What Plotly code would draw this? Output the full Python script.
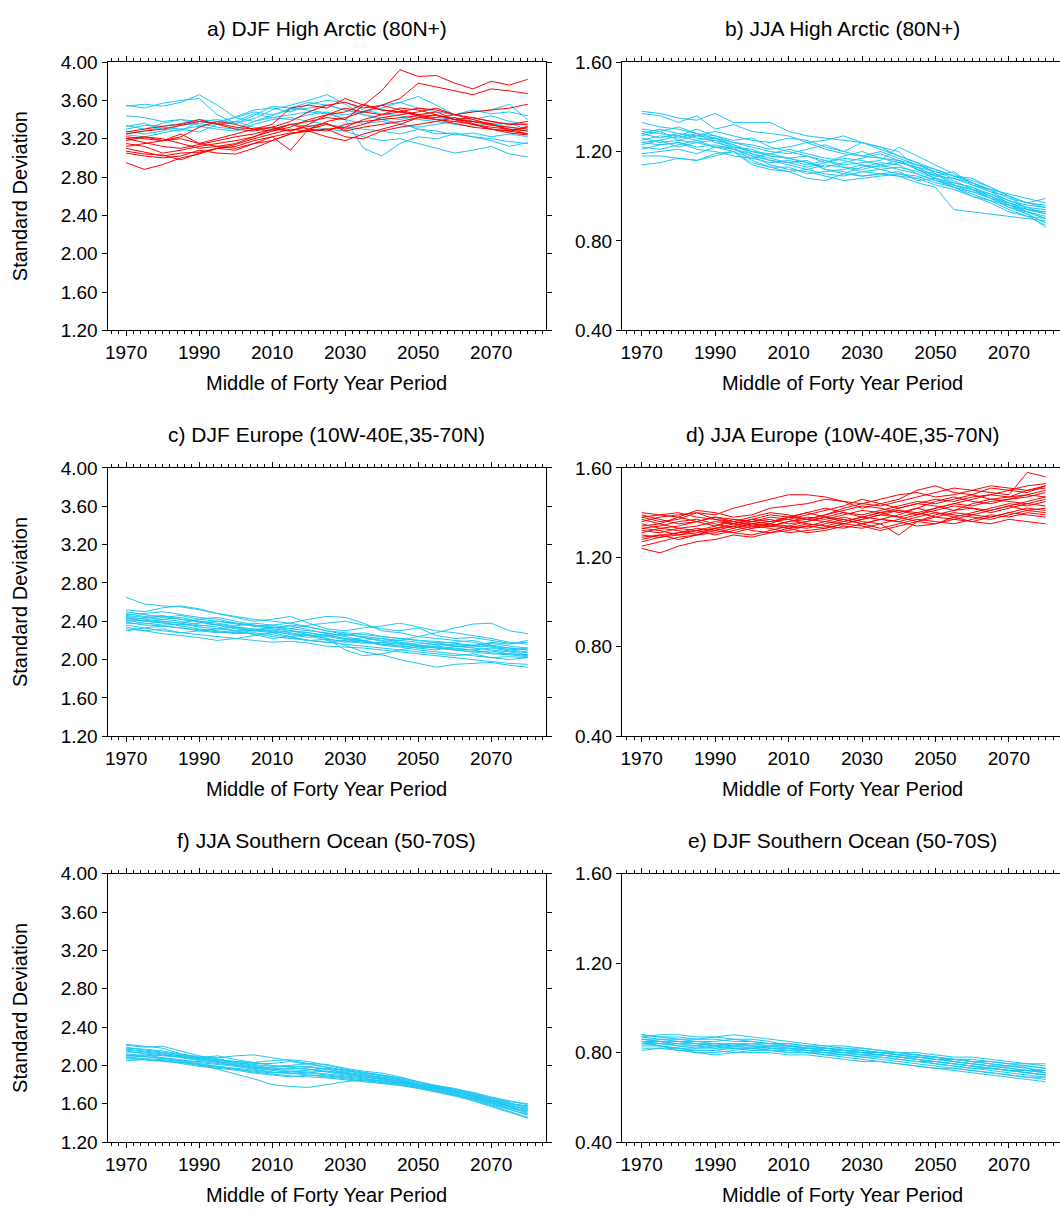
import plotly.graph_objects as go
from plotly.subplots import make_subplots

# ---------------- data (every 5 years) ----------------
years = [1970, 1975, 1980, 1985, 1990, 1995, 2000, 2005, 2010, 2015, 2020, 2025,
         2030, 2035, 2040, 2045, 2050, 2055, 2060, 2065, 2070, 2075, 2080]

x_tick_years = [1970, 1990, 2010, 2030, 2050, 2070]
y_ticks_big = [1.20, 1.60, 2.00, 2.40, 2.80, 3.20, 3.60, 4.00]
y_ticks_small = [0.40, 0.80, 1.20, 1.60]

titles = ["a) DJF High Arctic (80N+)", "b) JJA High Arctic (80N+)",
          "c) DJF Europe (10W-40E,35-70N)", "d) JJA Europe (10W-40E,35-70N)",
          "f) JJA Southern Ocean (50-70S)", "e) DJF Southern Ocean (50-70S)"]

# a) DJF High Arctic - cyan members
a_cyan = [
    [3.55,3.52,3.57,3.60,3.62,3.45,3.36,3.41,3.50,3.55,3.60,3.66,3.56,3.45,3.40,3.36,3.30,3.25,3.26,3.22,3.20,3.17,3.15],
    [3.54,3.56,3.54,3.58,3.66,3.55,3.42,3.38,3.44,3.52,3.58,3.55,3.50,3.47,3.55,3.58,3.52,3.48,3.45,3.50,3.46,3.48,3.44],
    [3.44,3.42,3.38,3.40,3.34,3.36,3.43,3.50,3.52,3.48,3.56,3.60,3.58,3.50,3.46,3.44,3.40,3.38,3.35,3.33,3.36,3.32,3.28],
    [3.34,3.30,3.36,3.40,3.38,3.35,3.38,3.46,3.42,3.40,3.45,3.48,3.40,3.10,3.02,3.15,3.22,3.20,3.25,3.22,3.18,3.12,3.16],
    [3.33,3.36,3.30,3.28,3.38,3.40,3.36,3.44,3.54,3.52,3.50,3.47,3.45,3.48,3.52,3.58,3.64,3.55,3.45,3.48,3.50,3.56,3.40],
    [3.25,3.28,3.32,3.30,3.27,3.35,3.38,3.32,3.30,3.35,3.33,3.30,3.28,3.22,3.18,3.20,3.15,3.10,3.05,3.08,3.12,3.04,3.01],
    [3.24,3.22,3.26,3.30,3.33,3.30,3.28,3.35,3.40,3.42,3.38,3.35,3.32,3.30,3.28,3.25,3.30,3.28,3.24,3.26,3.22,3.25,3.22],
    [3.30,3.34,3.33,3.36,3.40,3.38,3.42,3.48,3.45,3.50,3.52,3.55,3.50,3.45,3.42,3.40,3.44,3.40,3.42,3.38,3.35,3.36,3.30],
    [3.28,3.25,3.28,3.34,3.36,3.32,3.30,3.38,3.42,3.45,3.48,3.46,3.40,3.36,3.38,3.35,3.32,3.35,3.38,3.40,3.44,3.38,3.35],
]
# a) DJF High Arctic - red members
a_red = [
    [3.22,3.20,3.18,3.25,3.15,3.20,3.25,3.30,3.28,3.35,3.38,3.42,3.40,3.55,3.70,3.92,3.85,3.86,3.78,3.72,3.80,3.76,3.82],
    [3.27,3.30,3.33,3.35,3.40,3.35,3.30,3.28,3.32,3.38,3.48,3.55,3.58,3.52,3.55,3.62,3.78,3.74,3.70,3.66,3.72,3.70,3.67],
    [3.25,3.28,3.30,3.34,3.38,3.36,3.32,3.30,3.35,3.52,3.55,3.52,3.62,3.55,3.50,3.48,3.52,3.50,3.45,3.48,3.50,3.52,3.56],
    [3.20,3.16,3.12,3.10,3.14,3.18,3.22,3.25,3.30,3.28,3.35,3.45,3.48,3.56,3.50,3.48,3.44,3.42,3.45,3.40,3.35,3.30,3.25],
    [3.18,3.22,3.20,3.15,3.10,3.12,3.15,3.22,3.28,3.32,3.40,3.45,3.52,3.48,3.55,3.50,3.45,3.48,3.40,3.35,3.30,3.28,3.32],
    [3.15,3.12,3.05,3.08,3.12,3.15,3.18,3.22,3.30,3.35,3.30,3.38,3.42,3.48,3.45,3.52,3.50,3.45,3.40,3.42,3.38,3.35,3.35],
    [3.10,3.06,3.02,3.05,3.06,3.10,3.12,3.18,3.22,3.08,3.30,3.28,3.35,3.38,3.40,3.42,3.44,3.40,3.38,3.35,3.32,3.30,3.28],
    [3.07,3.04,3.03,2.98,3.05,3.10,3.14,3.20,3.25,3.30,3.28,3.30,3.32,3.40,3.45,3.48,3.45,3.44,3.40,3.38,3.34,3.32,3.30],
    [3.05,3.02,3.00,3.02,3.08,3.05,3.04,3.10,3.18,3.25,3.28,3.22,3.18,3.25,3.30,3.35,3.42,3.45,3.40,3.38,3.36,3.28,3.33],
    [2.95,2.88,2.93,3.00,3.04,3.10,3.08,3.15,3.22,3.26,3.28,3.30,3.22,3.20,3.28,3.32,3.35,3.38,3.42,3.36,3.30,3.28,3.25],
    [3.20,3.22,3.18,3.22,3.32,3.38,3.35,3.30,3.32,3.28,3.33,3.36,3.28,3.32,3.35,3.38,3.42,3.40,3.36,3.32,3.30,3.26,3.24],
    [3.12,3.15,3.18,3.20,3.15,3.12,3.10,3.15,3.18,3.25,3.30,3.35,3.30,3.35,3.42,3.45,3.48,3.52,3.45,3.42,3.38,3.35,3.38],
]

# b) JJA High Arctic - cyan members
b_cyan = [
    [1.38,1.37,1.35,1.34,1.37,1.33,1.33,1.33,1.29,1.27,1.26,1.25,1.24,1.22,1.18,1.15,1.10,1.05,1.02,1.00,0.97,0.93,0.90],
    [1.37,1.36,1.33,1.36,1.30,1.32,1.29,1.28,1.27,1.24,1.25,1.27,1.24,1.22,1.20,1.12,1.08,1.04,1.00,0.98,0.96,0.92,0.88],
    [1.33,1.31,1.30,1.28,1.26,1.22,1.20,1.18,1.17,1.18,1.16,1.14,1.15,1.16,1.22,1.18,1.14,1.10,1.06,1.02,0.98,0.95,0.92],
    [1.30,1.29,1.31,1.28,1.27,1.24,1.22,1.20,1.19,1.21,1.23,1.20,1.18,1.17,1.16,1.12,1.10,1.06,1.04,1.00,0.96,0.94,0.93],
    [1.29,1.28,1.27,1.30,1.27,1.25,1.26,1.22,1.20,1.18,1.15,1.17,1.16,1.14,1.12,1.10,1.07,1.04,1.02,0.99,0.97,0.95,0.94],
    [1.28,1.26,1.28,1.26,1.25,1.21,1.18,1.16,1.15,1.13,1.15,1.18,1.20,1.17,1.15,1.13,1.11,1.08,1.05,1.03,0.99,0.97,0.99],
    [1.27,1.29,1.25,1.24,1.22,1.20,1.14,1.12,1.11,1.12,1.10,1.09,1.11,1.10,1.09,1.06,1.04,0.94,0.93,0.92,0.91,0.90,0.89],
    [1.26,1.24,1.25,1.27,1.26,1.23,1.20,1.19,1.21,1.19,1.17,1.16,1.14,1.13,1.15,1.13,1.09,1.08,1.06,1.03,0.96,0.93,0.91],
    [1.25,1.27,1.26,1.28,1.24,1.22,1.21,1.18,1.17,1.15,1.12,1.11,1.09,1.10,1.09,1.08,1.10,1.07,1.03,1.01,0.98,0.96,0.95],
    [1.24,1.23,1.24,1.22,1.23,1.21,1.19,1.16,1.14,1.12,1.14,1.13,1.12,1.14,1.16,1.12,1.09,1.11,1.05,1.02,1.00,0.94,0.92],
    [1.23,1.25,1.22,1.24,1.25,1.23,1.19,1.17,1.15,1.16,1.12,1.10,1.09,1.10,1.11,1.07,1.08,1.05,1.03,0.99,0.95,0.93,0.90],
    [1.22,1.21,1.23,1.25,1.22,1.22,1.16,1.13,1.13,1.10,1.11,1.12,1.14,1.12,1.10,1.09,1.06,1.04,1.01,0.98,0.94,0.91,0.87],
    [1.21,1.23,1.24,1.21,1.20,1.18,1.17,1.19,1.17,1.15,1.13,1.15,1.17,1.19,1.16,1.14,1.12,1.09,1.08,1.04,1.00,0.97,0.95],
    [1.19,1.20,1.21,1.19,1.22,1.21,1.18,1.14,1.12,1.11,1.09,1.07,1.08,1.09,1.10,1.08,1.05,1.03,1.00,0.97,0.93,0.91,0.90],
    [1.18,1.18,1.17,1.16,1.19,1.20,1.17,1.15,1.16,1.14,1.16,1.13,1.11,1.12,1.13,1.11,1.08,1.06,1.04,1.01,0.97,0.94,0.93],
    [1.14,1.15,1.17,1.16,1.18,1.20,1.15,1.13,1.11,1.08,1.07,1.10,1.13,1.15,1.14,1.10,1.07,1.05,1.03,1.00,0.95,0.92,0.86],
    [1.28,1.30,1.28,1.27,1.29,1.27,1.25,1.24,1.26,1.25,1.22,1.20,1.24,1.21,1.18,1.15,1.12,1.09,1.07,1.04,1.00,0.97,0.96],
    [1.24,1.25,1.27,1.25,1.26,1.24,1.23,1.21,1.22,1.24,1.21,1.19,1.18,1.20,1.17,1.14,1.11,1.09,1.06,1.03,1.01,0.99,0.97],
]

# c) DJF Europe - cyan members
c_cyan = [
    [2.65,2.58,2.56,2.55,2.52,2.48,2.45,2.42,2.40,2.38,2.34,2.30,2.28,2.26,2.24,2.22,2.20,2.17,2.18,2.20,2.15,2.10,2.12],
    [2.52,2.50,2.54,2.56,2.53,2.48,2.44,2.40,2.42,2.45,2.38,2.32,2.30,2.33,2.35,2.38,2.34,2.30,2.28,2.25,2.22,2.18,2.16],
    [2.50,2.47,2.44,2.46,2.42,2.40,2.37,2.35,2.36,2.38,2.42,2.45,2.44,2.38,2.30,2.28,2.24,2.22,2.20,2.18,2.14,2.12,2.10],
    [2.48,2.45,2.46,2.42,2.40,2.36,2.32,2.30,2.33,2.36,2.34,2.30,2.26,2.24,2.22,2.20,2.24,2.28,2.33,2.37,2.38,2.30,2.27],
    [2.46,2.44,2.42,2.44,2.40,2.38,2.35,2.38,2.36,2.32,2.30,2.28,2.24,2.20,2.16,2.15,2.12,2.10,2.14,2.12,2.10,2.08,2.05],
    [2.45,2.42,2.40,2.38,2.42,2.44,2.40,2.36,2.32,2.30,2.28,2.24,2.21,2.18,2.16,2.18,2.15,2.13,2.11,2.10,2.12,2.09,2.07],
    [2.44,2.40,2.42,2.40,2.36,2.34,2.30,2.31,2.34,2.30,2.26,2.22,2.10,2.04,2.06,2.10,2.14,2.16,2.14,2.15,2.17,2.14,2.12],
    [2.43,2.40,2.38,2.36,2.38,2.40,2.38,2.35,2.33,2.35,2.31,2.27,2.25,2.28,2.24,2.22,2.20,2.19,2.17,2.15,2.13,2.10,2.08],
    [2.42,2.43,2.45,2.42,2.39,2.36,2.33,2.30,2.28,2.30,2.28,2.25,2.27,2.23,2.19,2.20,2.18,2.15,2.16,2.14,2.18,2.16,2.20],
    [2.41,2.38,2.36,2.37,2.34,2.32,2.34,2.31,2.29,2.27,2.25,2.20,2.15,2.08,2.05,2.00,1.96,1.92,1.95,1.96,1.97,1.94,1.92],
    [2.40,2.41,2.39,2.35,2.32,2.30,2.28,2.30,2.31,2.28,2.25,2.26,2.22,2.20,2.22,2.18,2.16,2.18,2.14,2.13,2.15,2.12,2.10],
    [2.39,2.36,2.35,2.33,2.30,2.28,2.29,2.27,2.24,2.22,2.20,2.18,2.20,2.23,2.20,2.17,2.14,2.12,2.10,2.08,2.06,2.05,2.03],
    [2.38,2.37,2.40,2.38,2.35,2.37,2.34,2.32,2.30,2.26,2.23,2.25,2.22,2.19,2.15,2.13,2.10,2.08,2.06,2.04,2.02,2.03,2.02],
    [2.36,2.33,2.30,2.28,2.30,2.32,2.30,2.26,2.22,2.24,2.26,2.22,2.18,2.20,2.16,2.14,2.12,2.14,2.12,2.10,2.07,2.06,2.04],
    [2.34,2.30,2.32,2.28,2.26,2.24,2.22,2.25,2.28,2.24,2.20,2.18,2.16,2.14,2.12,2.10,2.08,2.06,2.04,2.06,2.02,2.00,2.02],
    [2.32,2.30,2.27,2.25,2.23,2.20,2.22,2.20,2.18,2.19,2.17,2.14,2.13,2.12,2.10,2.08,2.06,2.04,2.02,2.00,1.98,1.96,1.95],
    [2.30,2.33,2.35,2.33,2.31,2.29,2.27,2.28,2.26,2.23,2.20,2.21,2.19,2.17,2.18,2.16,2.14,2.12,2.10,2.08,2.09,2.06,2.05],
    [2.47,2.48,2.50,2.47,2.44,2.42,2.38,2.36,2.34,2.32,2.36,2.38,2.40,2.36,2.32,2.30,2.33,2.25,2.22,2.23,2.20,2.17,2.18],
]

# d) JJA Europe - red members
d_red = [
    [1.38,1.36,1.37,1.40,1.39,1.42,1.44,1.46,1.48,1.48,1.47,1.45,1.44,1.46,1.48,1.49,1.47,1.48,1.50,1.49,1.48,1.58,1.56],
    [1.40,1.39,1.38,1.41,1.40,1.38,1.39,1.42,1.43,1.44,1.46,1.45,1.42,1.44,1.46,1.50,1.52,1.49,1.48,1.51,1.50,1.52,1.53],
    [1.39,1.37,1.35,1.36,1.38,1.37,1.36,1.38,1.37,1.39,1.41,1.43,1.46,1.44,1.42,1.44,1.46,1.45,1.47,1.48,1.50,1.49,1.52],
    [1.38,1.39,1.40,1.38,1.37,1.36,1.34,1.35,1.38,1.40,1.42,1.40,1.39,1.41,1.43,1.45,1.44,1.46,1.48,1.46,1.47,1.48,1.50],
    [1.36,1.38,1.39,1.40,1.37,1.35,1.37,1.39,1.38,1.37,1.39,1.41,1.43,1.42,1.40,1.42,1.45,1.47,1.45,1.44,1.46,1.47,1.49],
    [1.35,1.33,1.34,1.36,1.38,1.36,1.35,1.34,1.36,1.38,1.37,1.39,1.41,1.40,1.42,1.44,1.43,1.41,1.44,1.46,1.45,1.44,1.46],
    [1.34,1.35,1.33,1.32,1.34,1.37,1.36,1.37,1.35,1.36,1.38,1.40,1.38,1.37,1.39,1.42,1.40,1.38,1.40,1.42,1.44,1.43,1.45],
    [1.33,1.34,1.36,1.37,1.35,1.33,1.35,1.36,1.37,1.35,1.34,1.36,1.38,1.40,1.38,1.36,1.39,1.41,1.42,1.40,1.42,1.44,1.43],
    [1.32,1.31,1.33,1.34,1.36,1.35,1.33,1.34,1.36,1.37,1.36,1.35,1.37,1.39,1.41,1.40,1.38,1.40,1.39,1.41,1.43,1.41,1.42],
    [1.31,1.33,1.32,1.30,1.32,1.34,1.36,1.35,1.33,1.34,1.36,1.38,1.36,1.35,1.30,1.36,1.38,1.37,1.39,1.38,1.40,1.42,1.41],
    [1.30,1.29,1.31,1.33,1.32,1.31,1.33,1.35,1.34,1.33,1.35,1.37,1.35,1.33,1.35,1.37,1.36,1.35,1.37,1.39,1.38,1.40,1.39],
    [1.29,1.30,1.28,1.30,1.33,1.34,1.32,1.31,1.33,1.35,1.34,1.33,1.35,1.37,1.36,1.34,1.35,1.38,1.36,1.38,1.40,1.39,1.38],
    [1.28,1.30,1.31,1.32,1.30,1.32,1.34,1.33,1.31,1.32,1.33,1.35,1.34,1.32,1.34,1.36,1.35,1.37,1.36,1.35,1.37,1.36,1.35],
    [1.27,1.29,1.30,1.32,1.33,1.31,1.30,1.32,1.34,1.36,1.38,1.37,1.35,1.37,1.36,1.38,1.40,1.39,1.38,1.37,1.39,1.41,1.40],
    [1.25,1.27,1.29,1.30,1.31,1.33,1.35,1.34,1.33,1.31,1.32,1.34,1.33,1.35,1.37,1.39,1.41,1.43,1.42,1.41,1.43,1.45,1.47],
    [1.24,1.22,1.25,1.27,1.28,1.30,1.29,1.31,1.32,1.34,1.33,1.35,1.37,1.39,1.38,1.40,1.42,1.44,1.46,1.48,1.47,1.50,1.51],
    [1.37,1.35,1.38,1.36,1.34,1.36,1.38,1.40,1.39,1.37,1.39,1.42,1.44,1.43,1.45,1.47,1.49,1.51,1.50,1.52,1.51,1.50,1.52],
    [1.33,1.32,1.30,1.31,1.33,1.35,1.37,1.36,1.38,1.40,1.38,1.36,1.38,1.40,1.41,1.39,1.42,1.44,1.43,1.45,1.46,1.48,1.47],
]

# f) JJA Southern Ocean - cyan members
f_cyan = [
    [2.22,2.20,2.18,2.12,2.08,2.10,2.06,2.03,2.00,1.98,1.96,1.94,1.92,1.90,1.87,1.84,1.80,1.77,1.73,1.68,1.64,1.60,1.58],
    [2.21,2.19,2.20,2.15,2.10,2.07,2.03,2.01,1.99,2.00,2.02,2.01,1.97,1.94,1.92,1.88,1.83,1.78,1.74,1.70,1.66,1.62,1.60],
    [2.18,2.17,2.15,2.12,2.09,2.08,2.10,2.11,2.08,2.05,2.02,1.98,1.95,1.92,1.89,1.85,1.81,1.78,1.75,1.72,1.67,1.63,1.59],
    [2.16,2.14,2.12,2.10,2.08,2.06,2.04,2.02,2.02,2.04,2.01,1.98,1.94,1.92,1.90,1.86,1.82,1.79,1.76,1.71,1.66,1.61,1.56],
    [2.15,2.12,2.10,2.09,2.07,2.05,2.03,2.00,1.97,1.96,1.98,1.96,1.93,1.90,1.88,1.85,1.80,1.77,1.73,1.69,1.64,1.59,1.55],
    [2.14,2.13,2.11,2.08,2.05,2.04,2.02,1.99,1.96,1.94,1.95,1.97,1.95,1.91,1.87,1.83,1.79,1.76,1.72,1.68,1.63,1.58,1.54],
    [2.10,2.09,2.08,2.05,2.01,1.96,1.91,1.86,1.80,1.78,1.77,1.80,1.83,1.85,1.84,1.82,1.79,1.76,1.72,1.67,1.62,1.57,1.52],
    [2.12,2.10,2.11,2.09,2.06,2.03,2.00,1.98,1.95,1.92,1.93,1.94,1.91,1.88,1.86,1.83,1.80,1.77,1.73,1.68,1.63,1.57,1.51],
    [2.11,2.09,2.07,2.05,2.04,2.02,2.00,1.97,1.95,1.97,1.96,1.93,1.90,1.88,1.85,1.82,1.78,1.75,1.71,1.66,1.61,1.56,1.50],
    [2.10,2.11,2.08,2.06,2.03,2.01,1.99,1.96,1.93,1.91,1.92,1.90,1.88,1.86,1.84,1.81,1.78,1.74,1.70,1.65,1.60,1.54,1.48],
    [2.09,2.07,2.06,2.04,2.02,1.99,1.96,1.94,1.92,1.94,1.93,1.91,1.89,1.87,1.83,1.80,1.77,1.73,1.69,1.64,1.58,1.52,1.46],
    [2.08,2.06,2.05,2.03,2.00,1.98,1.96,1.93,1.91,1.89,1.88,1.87,1.85,1.83,1.81,1.79,1.76,1.72,1.68,1.63,1.57,1.51,1.45],
    [2.07,2.06,2.04,2.03,2.01,1.99,1.97,1.95,1.93,1.92,1.90,1.88,1.86,1.84,1.82,1.80,1.76,1.73,1.69,1.65,1.59,1.54,1.49],
    [2.05,2.06,2.05,2.02,1.99,1.97,1.95,1.92,1.90,1.88,1.90,1.89,1.87,1.85,1.82,1.80,1.77,1.74,1.70,1.66,1.61,1.55,1.53],
    [2.19,2.16,2.14,2.11,2.08,2.06,2.04,2.03,2.05,2.06,2.04,2.00,1.96,1.93,1.90,1.87,1.83,1.79,1.75,1.70,1.65,1.60,1.57],
    [2.17,2.15,2.13,2.10,2.07,2.04,2.01,1.98,1.98,1.99,1.99,1.96,1.92,1.89,1.86,1.83,1.80,1.76,1.72,1.68,1.63,1.58,1.54],
]

# e) DJF Southern Ocean - cyan members
e_cyan = [
    [0.88,0.87,0.86,0.86,0.87,0.88,0.87,0.86,0.85,0.84,0.83,0.83,0.82,0.81,0.80,0.79,0.78,0.77,0.76,0.76,0.75,0.75,0.75],
    [0.88,0.87,0.87,0.86,0.86,0.85,0.85,0.84,0.84,0.83,0.82,0.82,0.81,0.80,0.79,0.78,0.78,0.77,0.76,0.75,0.74,0.74,0.73],
    [0.87,0.86,0.86,0.85,0.85,0.86,0.86,0.85,0.83,0.83,0.82,0.81,0.81,0.80,0.80,0.79,0.78,0.76,0.75,0.74,0.73,0.72,0.72],
    [0.86,0.86,0.85,0.85,0.84,0.84,0.84,0.83,0.83,0.82,0.82,0.81,0.81,0.80,0.79,0.78,0.77,0.76,0.75,0.74,0.74,0.73,0.72],
    [0.86,0.85,0.85,0.84,0.84,0.83,0.84,0.84,0.83,0.82,0.81,0.81,0.80,0.80,0.79,0.78,0.77,0.77,0.76,0.75,0.74,0.73,0.71],
    [0.85,0.85,0.84,0.84,0.83,0.84,0.83,0.83,0.82,0.82,0.82,0.81,0.80,0.79,0.78,0.78,0.77,0.76,0.75,0.74,0.73,0.72,0.71],
    [0.85,0.84,0.84,0.83,0.84,0.84,0.83,0.82,0.82,0.81,0.81,0.80,0.80,0.79,0.78,0.77,0.76,0.75,0.74,0.73,0.72,0.71,0.70],
    [0.84,0.84,0.83,0.83,0.82,0.83,0.83,0.82,0.81,0.81,0.80,0.80,0.79,0.79,0.78,0.77,0.76,0.75,0.74,0.73,0.72,0.71,0.70],
    [0.84,0.83,0.82,0.82,0.83,0.82,0.82,0.81,0.81,0.80,0.80,0.79,0.79,0.78,0.77,0.76,0.75,0.74,0.73,0.72,0.71,0.70,0.69],
    [0.83,0.83,0.82,0.81,0.81,0.82,0.82,0.81,0.80,0.80,0.79,0.78,0.77,0.76,0.75,0.74,0.73,0.73,0.72,0.71,0.70,0.69,0.68],
    [0.82,0.82,0.81,0.81,0.81,0.80,0.80,0.80,0.79,0.79,0.78,0.77,0.76,0.76,0.75,0.74,0.73,0.72,0.71,0.70,0.69,0.68,0.67],
    [0.81,0.82,0.82,0.80,0.79,0.80,0.81,0.81,0.81,0.82,0.81,0.80,0.79,0.79,0.78,0.77,0.75,0.74,0.73,0.73,0.72,0.71,0.70],
    [0.85,0.83,0.81,0.80,0.80,0.81,0.82,0.82,0.82,0.81,0.80,0.79,0.78,0.77,0.76,0.75,0.74,0.73,0.72,0.71,0.70,0.69,0.69],
    [0.86,0.85,0.83,0.82,0.82,0.82,0.81,0.81,0.80,0.80,0.79,0.79,0.78,0.78,0.77,0.76,0.76,0.75,0.74,0.73,0.72,0.72,0.71],
    [0.87,0.88,0.88,0.87,0.87,0.86,0.85,0.84,0.84,0.83,0.83,0.82,0.82,0.81,0.80,0.80,0.79,0.78,0.78,0.77,0.76,0.75,0.74],
    [0.84,0.85,0.85,0.84,0.83,0.83,0.82,0.83,0.83,0.82,0.81,0.81,0.80,0.80,0.79,0.79,0.78,0.77,0.77,0.76,0.75,0.74,0.73],
]

# ---------------- figure ----------------
W, H = 1060, 1213
CYAN = "#1EC6F2"
RED = "#FF0000"
FONT = "Liberation Sans, Arial, Helvetica, sans-serif"

fig = make_subplots(rows=3, cols=2)

panel_series = [
    (1, 1, a_cyan, a_red),
    (1, 2, b_cyan, []),
    (2, 1, c_cyan, []),
    (2, 2, [], d_red),
    (3, 1, f_cyan, []),
    (3, 2, e_cyan, []),
]
for row, col, cy, rd in panel_series:
    for s in cy:
        fig.add_trace(go.Scatter(x=years, y=s, mode="lines", line=dict(color=CYAN, width=1),
                                 showlegend=False, hoverinfo="skip"), row=row, col=col)
    for s in rd:
        fig.add_trace(go.Scatter(x=years, y=s, mode="lines", line=dict(color=RED, width=1),
                                 showlegend=False, hoverinfo="skip"), row=row, col=col)

left_x = [105.7 / W, 545 / W]
right_x = [621 / W, 1.0]
row_tops = [53, 466, 879]
PH = 273

layout_upd = {}
for i, (row, col, _, _) in enumerate(panel_series):
    n = i + 1
    xk = "xaxis" if n == 1 else f"xaxis{n}"
    yk = "yaxis" if n == 1 else f"yaxis{n}"
    top = row_tops[row - 1]
    ydom = [1 - (top + PH) / H, 1 - top / H]
    is_left = col == 1
    layout_upd[xk] = dict(
        domain=left_x if is_left else right_x,
        range=[1964.9, 2085.0] if is_left else [1964.6, 2083.9],
        tickmode="array", tickvals=x_tick_years,
        ticks="outside", ticklen=5, tickwidth=1, tickcolor="black",
        minor=dict(dtick=2, tick0=1970, ticks="outside", ticklen=3, tickwidth=1, tickcolor="black"),
        showline=True, linecolor="black", linewidth=1, mirror="ticks",
        showgrid=False, zeroline=False,
        tickfont=dict(family=FONT, size=19, color="black"),
    )
    layout_upd[yk] = dict(
        domain=ydom,
        range=[1.2, 4.0] if is_left else [0.4, 1.6],
        tickmode="array",
        tickvals=y_ticks_big if is_left else y_ticks_small,
        tickformat=".2f",
        ticks="outside", ticklen=5, tickwidth=1, tickcolor="black",
        showline=True, linecolor="black", linewidth=1,
        mirror="ticks" if is_left else False,
        showgrid=False, zeroline=False,
        tickfont=dict(family=FONT, size=19, color="black"),
    )

fig.update_layout(**layout_upd)

annotations = []
centers = {1: (105.7 + 545) / 2, 2: (621 + 1064) / 2}
for i, (row, col, _, _) in enumerate(panel_series):
    top = row_tops[row - 1]
    cx = centers[col] / W
    annotations.append(dict(text=titles[i], x=cx, y=1 - (top - 34) / H, xref="paper", yref="paper",
                            xanchor="center", yanchor="middle", showarrow=False,
                            font=dict(family=FONT, size=21, color="black")))
    annotations.append(dict(text="Middle of Forty Year Period", x=cx, y=1 - (top + PH + 54) / H,
                            xref="paper", yref="paper", xanchor="center", yanchor="middle",
                            showarrow=False, font=dict(family=FONT, size=20, color="black")))
    if col == 1:
        annotations.append(dict(text="Standard Deviation", x=18 / W, y=1 - (top + PH / 2) / H,
                                xref="paper", yref="paper", xanchor="center", yanchor="middle",
                                textangle=-90, showarrow=False,
                                font=dict(family=FONT, size=20, color="black")))

fig.update_layout(
    width=W, height=H, autosize=False,
    margin=dict(l=0, r=0, t=0, b=0),
    paper_bgcolor="white", plot_bgcolor="white",
    annotations=annotations,
    showlegend=False,
)

fig.write_html("out.html",
               config={"displayModeBar": False, "staticPlot": True},
               post_script="document.body.style.margin='0px';document.body.style.overflow='hidden';")
